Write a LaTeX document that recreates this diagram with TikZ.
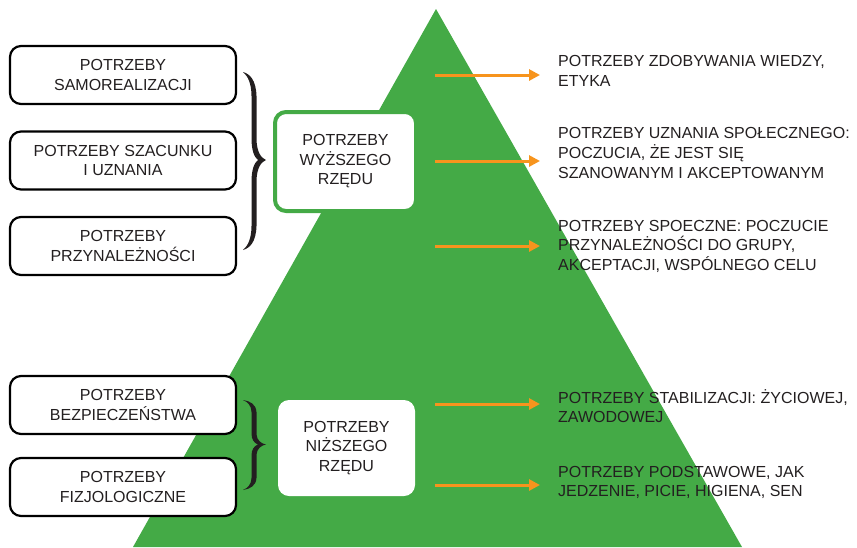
\documentclass[tikz,border=0pt]{standalone}
\usepackage{fontspec}
\setmainfont{Liberation Sans}
\usetikzlibrary{arrows.meta}
\definecolor{pgreen}{RGB}{68,170,70}
\definecolor{porange}{RGB}{247,148,29}
\definecolor{ptext}{RGB}{35,31,32}
\begin{document}
\begin{tikzpicture}[x=1pt,y=-1pt,
  every node/.style={text=ptext, font=\fontsize{16}{19.5}\selectfont},
  lbox/.style={draw=black, line width=2.2pt, rounded corners=11pt, fill=white,
    minimum width=226pt, minimum height=58pt, align=center, inner sep=0pt},
  gbox/.style={draw=pgreen, line width=4pt, rounded corners=11pt, fill=white,
    minimum width=141pt, minimum height=99pt, align=center, inner sep=0pt},
  wbox/.style={fill=white, rounded corners=11pt,
    minimum width=137pt, minimum height=96pt, align=center, inner sep=0pt},
  rtext/.style={anchor=base west, align=left, inner sep=0pt,
    font=\fontsize{16}{19.8}\selectfont},
  arr/.style={draw=porange, line width=3pt, -{Triangle[length=11pt,width=11pt]}},
  curlybrace/.pic={
    \fill[ptext] (0,0) .. controls (7,2) and (13,8) .. (13.5,24)
      -- (13.5,68) .. controls (14,80) and (18,86) .. (23,88)
      .. controls (18,90) and (14,96) .. (13.5,108)
      -- (13.5,154) .. controls (13,170) and (7,176) .. (0,178)
      .. controls (5,174) and (8.5,166) .. (8.5,154)
      -- (8.5,110) .. controls (8.5,98) and (11,91) .. (15,88)
      .. controls (11,85) and (8.5,78) .. (8.5,66)
      -- (8.5,24) .. controls (8.5,12) and (5,4) .. (0,0) -- cycle;
  }]
\useasboundingbox (0,0) rectangle (857,547);
% pyramid
\coordinate (apex) at (436,9);
\coordinate (bl) at (133,547);
\coordinate (br) at (742,547);
\fill[pgreen] (apex) -- (bl) -- (br) -- cycle;
% left boxes
\node[lbox] (samo) at (123,75) {POTRZEBY\\SAMOREALIZACJI};
\node[lbox] (szac) at (123,160.5) {POTRZEBY SZACUNKU\\I UZNANIA};
\node[lbox] (przy) at (123,246) {POTRZEBY\\PRZYNALEŻNOŚCI};
\node[lbox] (bezp) at (123,405) {POTRZEBY\\BEZPIECZEŃSTWA};
\node[lbox] (fizj) at (123,487) {POTRZEBY\\FIZJOLOGICZNE};
% braces
\pic (brace1) at (243,72) {curlybrace};
\pic[yscale=0.5056] (brace2) at (243,400) {curlybrace};
% middle boxes
\node[gbox] (wyz) at (345.5,161.5) {POTRZEBY\\WYŻSZEGO\\RZĘDU};
\node[wbox] (niz) at (346.5,448) {POTRZEBY\\NIŻSZEGO\\RZĘDU};
% arrows
\coordinate (a1s) at (435,75);   \coordinate (a1e) at (540,75);
\coordinate (a2s) at (435,161);  \coordinate (a2e) at (540,161);
\coordinate (a3s) at (435,246);  \coordinate (a3e) at (540,246);
\coordinate (a4s) at (435,404);  \coordinate (a4e) at (540,404);
\coordinate (a5s) at (435,485);  \coordinate (a5e) at (540,485);
\draw[arr] (a1s) -- (a1e);
\draw[arr] (a2s) -- (a2e);
\draw[arr] (a3s) -- (a3e);
\draw[arr] (a4s) -- (a4e);
\draw[arr] (a5s) -- (a5e);
% right texts (anchored at the baseline of the last line)
\node[rtext] (t1) at (558,86.5) {POTRZEBY ZDOBYWANIA WIEDZY,\\ETYKA};
\node[rtext] (t2) at (558,178.5) {POTRZEBY UZNANIA SPOŁECZNEGO:\\POCZUCIA, ŻE JEST SIĘ\\SZANOWANYM I AKCEPTOWANYM};
\node[rtext] (t3) at (558,270.6) {POTRZEBY SPOECZNE: POCZUCIE\\PRZYNALEŻNOŚCI DO GRUPY,\\AKCEPTACJI, WSPÓLNEGO CELU};
\node[rtext] (t4) at (558,422.8) {POTRZEBY STABILIZACJI: ŻYCIOWEJ,\\ZAWODOWEJ};
\node[rtext] (t5) at (558,496.8) {POTRZEBY PODSTAWOWE, JAK\\JEDZENIE, PICIE, HIGIENA, SEN};
\end{tikzpicture}
\end{document}
